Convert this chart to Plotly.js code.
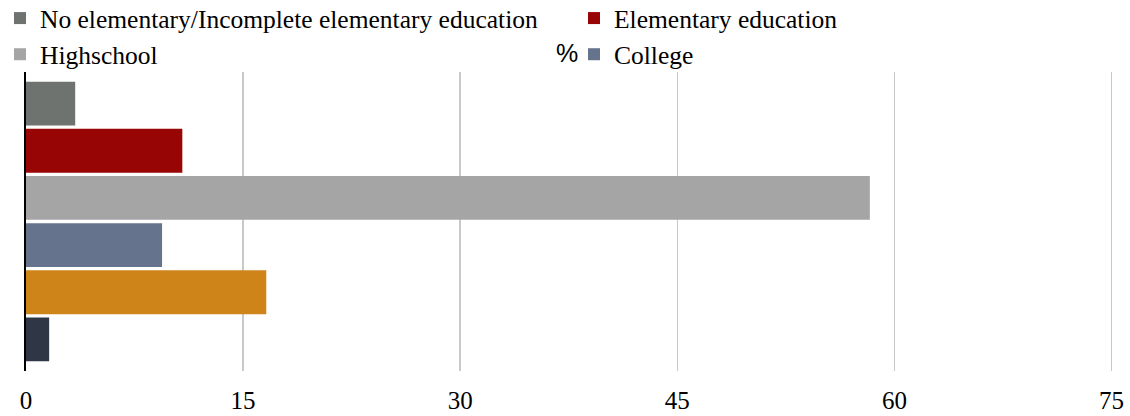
<!DOCTYPE html>
<html>
<head>
<meta charset="utf-8">
<script src="https://cdn.plot.ly/plotly-3.0.1.min.js"></script>
<style>
html,body{margin:0;padding:0;background:#fff;}
#chart{width:1130px;height:416px;}
</style>
</head>
<body>
<div id="chart"></div>
<script>
const categories = ['%'];
const seriesNames = [
  'No elementary/Incomplete elementary education',
  'Elementary education',
  'Highschool',
  'College',
  'Postgraduate',
  'No answer'
];
const seriesValues = [3.4, 10.8, 58.3, 9.4, 16.6, 1.6];
const seriesColors = ['#6e7370', '#980505', '#a5a5a5', '#65738c', '#ce8418', '#2f3645'];
const seriesLegend = ['legend', 'legend2', 'legend', 'legend2', null, null];
const xTicks = [0, 15, 30, 45, 60, 75];

const serif = 'Liberation Serif';

const traces = seriesNames.map((name, i) => ({
  type: 'bar',
  orientation: 'h',
  name: name,
  x: [seriesValues[i]],
  y: categories,
  marker: {color: seriesColors[i]},
  showlegend: seriesLegend[i] !== null,
  legend: seriesLegend[i] || 'legend',
  hoverinfo: 'x+name'
}));

function legendCfg(xpx) {
  return {
    orientation: 'v',
    xref: 'container', yref: 'paper',
    xanchor: 'left', yanchor: 'top',
    x: xpx / 1130,
    y: 1 + (72 + 5) / 299,
    font: {family: serif, size: 25.5, color: '#000000'},
    bgcolor: 'rgba(0,0,0,0)',
    borderwidth: 0,
    itemclick: false, itemdoubleclick: false,
    traceorder: 'normal',
    tracegroupgap: 0
  };
}

const layout = {
  width: 1130, height: 416,
  font: {family: serif, size: 25, color: '#000000'},
  margin: {l: 26, r: 16.5, t: 72, b: 45, autoexpand: false},
  paper_bgcolor: '#ffffff',
  plot_bgcolor: '#ffffff',
  barmode: 'group',
  bargap: 0.054,
  bargroupgap: 0.07,
  showlegend: true,
  legend: legendCfg(0),
  legend2: legendCfg(574),
  xaxis: {
    range: [0, 75.1],
    tickvals: xTicks,
    ticktext: xTicks.map(String),
    showgrid: true,
    gridcolor: '#c9c9c9',
    gridwidth: 1.5,
    zeroline: false,
    showline: false,
    ticks: '',
    ticklabelstandoff: 12,
    tickfont: {family: serif, size: 25, color: '#000000'}
  },
  yaxis: {
    type: 'category',
    autorange: 'reversed',
    showticklabels: false,
    showgrid: false,
    zeroline: false,
    showline: true,
    linecolor: '#000000',
    linewidth: 2.5,
    ticks: ''
  },
  annotations: [{
    text: '%',
    xref: 'paper', yref: 'paper',
    x: (567 - 26) / 1087.5, y: 1 + (72 - 53) / 299,
    xanchor: 'center', yanchor: 'middle',
    showarrow: false,
    font: {family: 'Liberation Sans', size: 25, color: '#000000'}
  }]
};

Plotly.newPlot('chart', traces, layout, {displayModeBar: false, staticPlot: true});
</script>
</body>
</html>
